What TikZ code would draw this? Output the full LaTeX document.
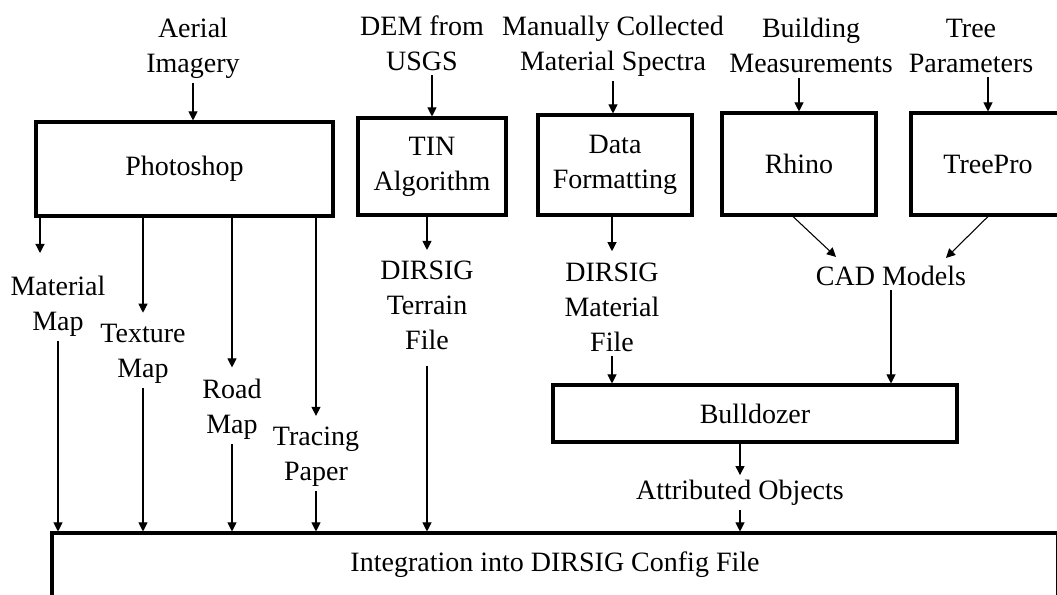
\documentclass[tikz,border=0pt]{standalone}
\usepackage{fontspec}
\setmainfont{Liberation Serif}
\usetikzlibrary{positioning,calc,arrows.meta}

\begin{document}
\begin{tikzpicture}[
  x=0.75pt, y=-0.75pt,
  % Define styles for boxes, labels and arrows
  every node/.style={font=\fontsize{21}{26.25}\selectfont},
  box style/.style={draw, line width=2.3pt, align=center},
  label style/.style={align=center},
  arrow style/.style={line width=0.8pt, -{Triangle[length=6.8pt,width=6.8pt]}},
  to label/.style={shorten >=5pt}
  ]
  \useasboundingbox (0,0) rectangle (1057,595);
  \clip (0,0) rectangle (1057,595);

  % Input labels along the top
  \node[label style] (aerial) at (193,48.5) {Aerial\\Imagery};
  \node[label style] (dem) at (422,43) {DEM from\\USGS};
  \node[label style] (manual) at (613,46) {Manually Collected\\Material Spectra};
  \node[label style] (building) at (811,45.5) {Building\\Measurements};
  \node[label style] (tree) at (971,45.75) {Tree\\Parameters};

  % Processing boxes
  \node[box style, minimum width=222.75pt, minimum height=70.5pt] (photoshop) at (184.5,169) {Photoshop};
  \node[box style, minimum width=111pt, minimum height=72.75pt] (tin) at (432,166.5) {TIN\\Algorithm};
  \node[box style, minimum width=115.5pt, minimum height=75pt] (dataf) at (615,165) {Data\\Formatting};
  \node[box style, minimum width=115.5pt, minimum height=76.5pt] (rhino) at (799,164) {Rhino};
  \node[box style, minimum width=115.5pt, minimum height=76.5pt] (treepro) at (988,164) {TreePro};

  % Intermediate products
  \node[label style] (matmap) at (58,306) {Material\\Map};
  \node[label style] (texmap) at (143,353.75) {Texture\\Map};
  \node[label style] (roadmap) at (232,409) {Road\\Map};
  \node[label style] (tracing) at (316,457) {Tracing\\Paper};
  \node[label style] (terrain) at (427,305.75) {DIRSIG\\Terrain\\File};
  \node[label style] (matfile) at (612,307) {DIRSIG\\Material\\File};
  \node[label style] (cad) at (891,275.5) {CAD Models};
  \coordinate (matin) at (40,253);

  \node[box style, minimum width=303pt, minimum height=42.75pt] (bulldozer) at (755,413.5) {Bulldozer};
  \node[label style] (attr) at (740,492.5) {Attributed Objects};
  \node[box style, minimum width=754.5pt, minimum height=48pt] (integ) at (555,565) {Integration into DIRSIG Config File};

  % --- Draw the arrows ---
  \draw[arrow style] (aerial) -- (aerial |- photoshop.north);
  \draw[arrow style] (dem.south -| tin) -- (tin.north);
  \draw[arrow style] (manual) -- (manual |- dataf.north);
  \draw[arrow style] (building.south -| rhino) -- (rhino.north);
  \draw[arrow style] (tree.south -| treepro) -- (treepro.north);

  \draw[arrow style] (photoshop.south -| matin) -- (matin);
  \draw[arrow style, to label] (photoshop.south -| texmap) -- (texmap.north);
  \draw[arrow style, to label] (photoshop.south -| roadmap) -- (roadmap.north);
  \draw[arrow style, to label] (photoshop.south -| tracing) -- (tracing.north);
  \draw[arrow style, to label] (tin.south -| terrain) -- (terrain.north);
  \draw[arrow style, to label] (dataf.south -| matfile) -- (matfile.north);
  \draw[arrow style] ($(rhino.south)+(-6,0)$) -- ($(cad.north)+(-55,-4)$);
  \draw[arrow style] (treepro.south) -- ($(cad.north)+(55,-3)$);

  \draw[arrow style] (matfile) -- (matfile |- bulldozer.north);
  \draw[arrow style] (cad) -- (cad |- bulldozer.north);
  \draw[arrow style] (bulldozer.south -| attr) -- (attr.north);

  \draw[arrow style] (matmap) -- (matmap |- integ.north);
  \draw[arrow style] (texmap) -- (texmap |- integ.north);
  \draw[arrow style] (roadmap) -- (roadmap |- integ.north);
  \draw[arrow style] (tracing) -- (tracing |- integ.north);
  \draw[arrow style, shorten <=8pt] (terrain) -- (terrain |- integ.north);
  \draw[arrow style] (attr) -- (attr |- integ.north);
\end{tikzpicture}
\end{document}
